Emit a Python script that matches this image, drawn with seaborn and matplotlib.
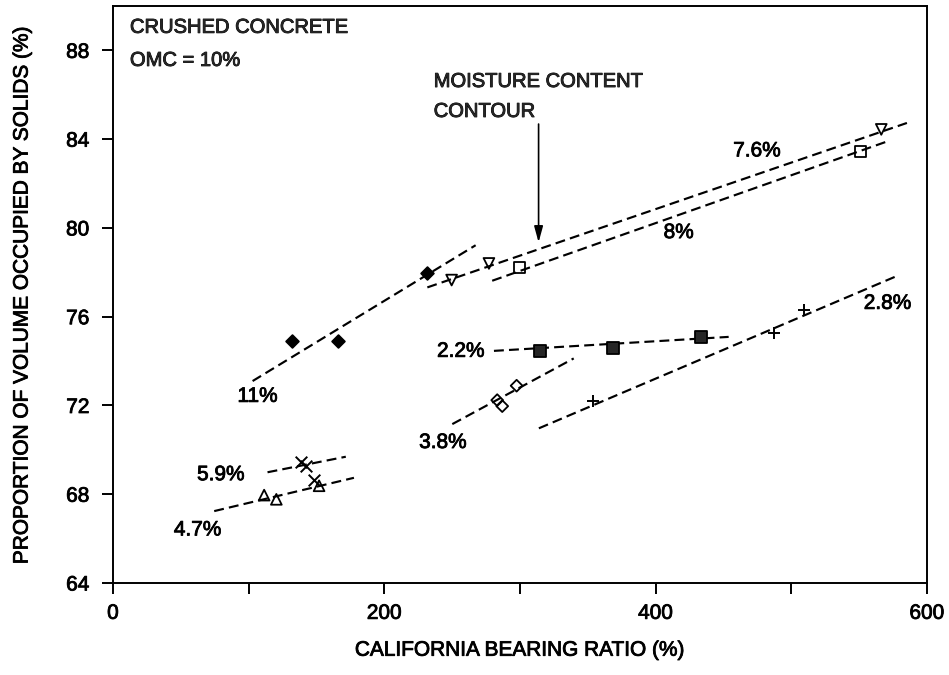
import matplotlib
matplotlib.use("Agg")
import matplotlib.pyplot as plt
import matplotlib.patheffects as pe
import seaborn as sns
import pandas as pd

# ---------------- data ----------------
series_names = ["11%", "7.6%", "8%", "2.2%", "3.8%", "2.8%", "5.9%", "4.7%"]

pts_x = {
    "11%":  [131.8, 165.6, 231.7],
    "7.6%": [249.6, 277.1, 566.3],
    "8%":   [299.7, 550.8],
    "2.2%": [314.7, 368.2, 433.7],
    "3.8%": [283.2, 286.9, 297.5],
    "2.8%": [354.0, 486.9, 509.0],
    "5.9%": [138.5, 142.1, 148.3],
    "4.7%": [111.4, 120.4, 151.9],
}
pts_y = {
    "11%":  [74.90, 74.90, 77.95],
    "7.6%": [77.65, 78.40, 84.44],
    "8%":   [78.22, 83.43],
    "2.2%": [74.46, 74.57, 75.09],
    "3.8%": [72.24, 71.97, 72.89],
    "2.8%": [72.20, 75.27, 76.30],
    "5.9%": [69.46, 69.28, 68.64],
    "4.7%": [67.96, 67.77, 68.38],
}

# moisture-content contour lines (start / end)
line_x0 = [102.9, 231.7, 279.5, 280.8, 250.1, 313.9, 113.9, 74.6]
line_y0 = [73.10, 77.32, 77.62, 74.46, 71.16, 70.97, 68.99, 67.24]
line_x1 = [267.3, 585.2, 571.7, 453.8, 339.6, 579.2, 171.6, 177.6]
line_y1 = [79.22, 84.73, 83.92, 75.09, 74.12, 77.87, 69.69, 68.74]

# label anchor positions (data coords)
label_x = [106.6, 474.7, 417.0, 256.3, 243.2, 570.9, 79.5, 62.4]
label_y = [72.41, 83.47, 79.79, 74.44, 70.33, 76.60, 68.88, 66.39]

x_ticks = [0, 100, 200, 300, 400, 500, 600]
x_ticklabels = ["0", "", "200", "", "400", "", "600"]
y_ticks = [64, 68, 72, 76, 80, 84, 88]

# ---------------- styling ----------------
styles = {
    "11%":  dict(marker="D", s=42, facecolor="black", edgecolor="black"),
    "7.6%": dict(marker="v", s=60, facecolor="none", edgecolor="black"),
    "8%":   dict(marker="s", s=60, facecolor="none", edgecolor="black"),
    "2.2%": dict(marker="s", s=75, facecolor="#262626", edgecolor="black"),
    "3.8%": dict(marker="D", s=36, facecolor="none", edgecolor="black"),
    "2.8%": dict(marker="+", s=70, color="black"),
    "5.9%": dict(marker="x", s=70, color="black"),
    "4.7%": dict(marker="^", s=60, facecolor="none", edgecolor="black"),
}

sns.set_theme(style="white")
plt.rcParams["font.family"] = ["Liberation Sans", "DejaVu Sans"]
plt.rcParams["axes.linewidth"] = 1.4

thick = [pe.withStroke(linewidth=0.6, foreground="black")]

fig = plt.figure(figsize=(9.49, 6.75), dpi=100)
ax = fig.add_axes([113 / 949, 1 - 583 / 675, (927 - 113) / 949, (583 - 6) / 675])

rows = []
for n in series_names:
    for xv, yv in zip(pts_x[n], pts_y[n]):
        rows.append(dict(series=n, cbr=xv, vol=yv))
df = pd.DataFrame(rows)

lines = pd.DataFrame(dict(series=series_names, x0=line_x0, y0=line_y0, x1=line_x1, y1=line_y1))

for i, n in enumerate(series_names):
    r = lines.iloc[i]
    seg = pd.DataFrame(dict(x=[r.x0, r.x1], y=[r.y0, r.y1]))
    sns.lineplot(data=seg, x="x", y="y", ax=ax, color="black", lw=1.55,
                 linestyle=(0, (4.6, 2.4)), sort=False, zorder=2)
    sub = df[df.series == n]
    st = dict(styles[n])
    if st["marker"] in ("+", "x"):
        sns.scatterplot(data=sub, x="cbr", y="vol", ax=ax, marker=st["marker"],
                        s=st["s"], color="black", linewidth=1.4, zorder=3)
    else:
        sns.scatterplot(data=sub, x="cbr", y="vol", ax=ax, marker=st["marker"],
                        s=st["s"], facecolors=st["facecolor"], edgecolor=st["edgecolor"],
                        linewidth=1.3, zorder=3)
    ax.text(label_x[i], label_y[i], n, ha="center", va="center", fontsize=15,
            color="black", path_effects=thick)

# annotations
ax.text(12.5, 88.79, "CRUSHED CONCRETE", ha="left", va="baseline", fontsize=14.5, path_effects=thick)
ax.text(12.5, 87.30, "OMC = 10%", ha="left", va="baseline", fontsize=14.5, path_effects=thick)
ax.text(236.4, 86.35, "MOISTURE CONTENT", ha="left", va="baseline", fontsize=14.5, path_effects=thick)
ax.text(236.4, 85.00, "CONTOUR", ha="left", va="baseline", fontsize=14.5, path_effects=thick)
ax.annotate("", xy=(313.7, 79.35), xytext=(313.7, 84.68),
            arrowprops=dict(arrowstyle="-|>,head_length=0.8,head_width=0.22",
                            color="black", lw=1.2, shrinkA=0, shrinkB=0))

ax.set_xlim(0, 600)
ax.set_ylim(64, 90)
ax.set_xticks(x_ticks)
ax.set_xticklabels(x_ticklabels)
ax.set_yticks(y_ticks)
ax.tick_params(axis="both", direction="out", length=8, width=1.4, labelsize=15,
               colors="black", bottom=True, left=True)
ax.tick_params(axis="y", pad=9)
ax.tick_params(axis="x", pad=7)
for lab in ax.get_xticklabels() + ax.get_yticklabels():
    lab.set_path_effects(thick)
for sp in ax.spines.values():
    sp.set_color("black")
    sp.set_visible(True)

ax.set_xlabel("CALIFORNIA BEARING RATIO (%)", fontsize=15, color="black", path_effects=thick)
ax.set_ylabel("PROPORTION OF VOLUME OCCUPIED BY SOLIDS (%)", fontsize=15, color="black",
              path_effects=thick)
ax.xaxis.set_label_coords(0.5, -0.10)
ax.yaxis.set_label_coords(-0.10, 0.5)

fig.savefig("out.png", dpi=100)
